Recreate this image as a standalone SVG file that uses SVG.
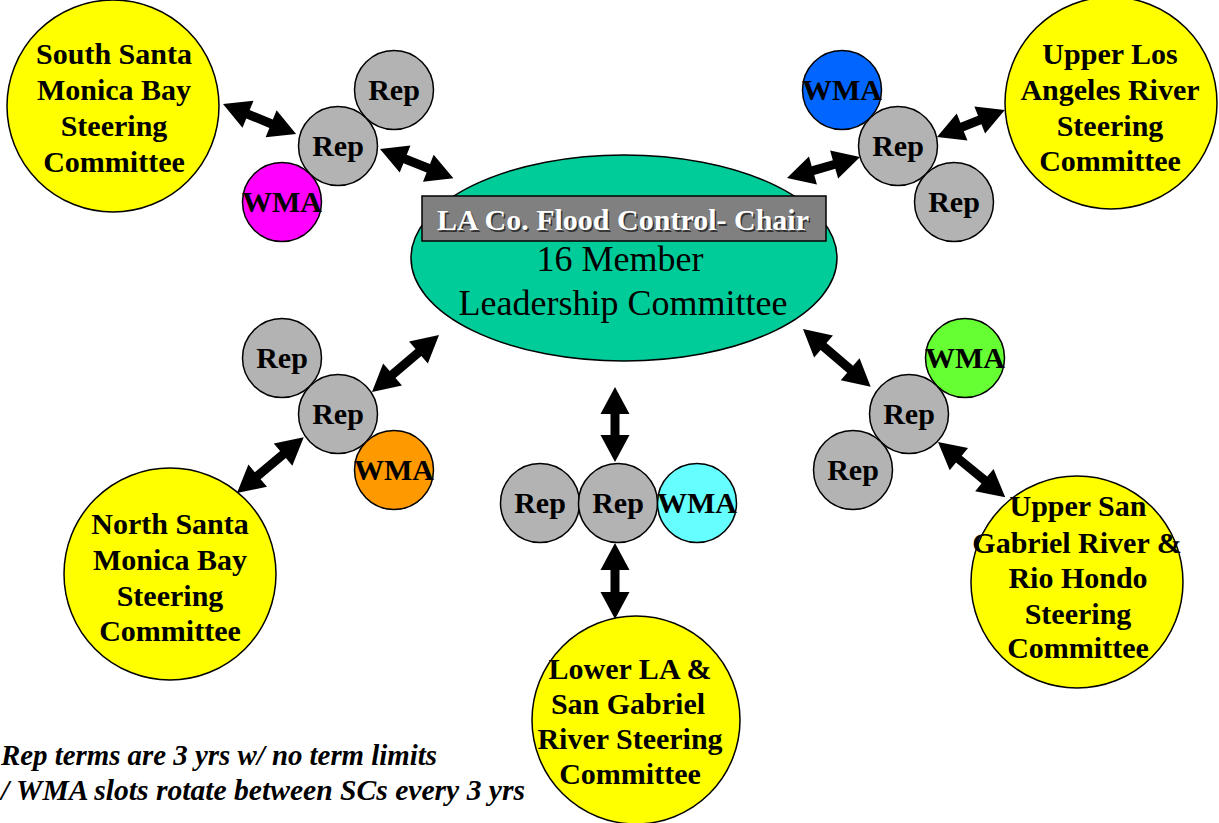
<svg xmlns="http://www.w3.org/2000/svg" width="1219" height="823" viewBox="0 0 1219 823">
<style>
.sc{fill:#ffff00;stroke:#000;stroke-width:1.5}
.rep{fill:#b3b3b3;stroke:#000;stroke-width:1.5}
.wma{stroke:#000;stroke-width:1.5}
.t{font-family:"Liberation Serif","Times New Roman",serif;font-weight:bold;font-size:30px;fill:#000;text-anchor:middle}
.s{font-family:"Liberation Serif","Times New Roman",serif;font-weight:bold;font-size:30px;fill:#000;text-anchor:middle}
.big{font-family:"Liberation Serif","Times New Roman",serif;font-size:36px;fill:#000;text-anchor:middle}
.chair{font-family:"Liberation Serif","Times New Roman",serif;font-weight:bold;font-size:30px;text-anchor:middle}
.note{font-family:"Liberation Serif","Times New Roman",serif;font-weight:bold;font-style:italic;font-size:30px;fill:#000}
.arr{fill:#000}
</style>
<rect width="1219" height="823" fill="#fff"/>

<g id="leadership">
<ellipse cx="624" cy="258" rx="213" ry="103" fill="#00cc99" stroke="#000" stroke-width="1.5"/>
<rect x="422" y="196" width="404" height="45" fill="#808080" stroke="#000" stroke-width="1.5"/>
<text class="chair" x="624.5" y="231.5" fill="#333">LA Co. Flood Control- Chair</text>
<text class="chair" x="623" y="230" fill="#fff">LA Co. Flood Control- Chair</text>
<text class="big" x="620" y="271">16 Member</text>
<text class="big" x="623" y="315">Leadership Committee</text>
</g>

<g id="sc-south-smb">
<circle class="sc" cx="113" cy="106" r="106"/>
<text class="t" x="114" y="64">South Santa</text>
<text class="t" x="114" y="100">Monica Bay</text>
<text class="t" x="114" y="136">Steering</text>
<text class="t" x="114" y="172">Committee</text>
</g>

<g id="sc-upper-la">
<circle class="sc" cx="1111" cy="103" r="106"/>
<text class="t" x="1110" y="64">Upper Los</text>
<text class="t" x="1110" y="100">Angeles River</text>
<text class="t" x="1110" y="136">Steering</text>
<text class="t" x="1110" y="171">Committee</text>
</g>

<g id="sc-north-smb">
<circle class="sc" cx="170" cy="574" r="106"/>
<text class="t" x="170" y="534">North Santa</text>
<text class="t" x="170" y="570">Monica Bay</text>
<text class="t" x="170" y="606">Steering</text>
<text class="t" x="170" y="641">Committee</text>
</g>

<g id="sc-lower-la">
<circle class="sc" cx="636" cy="720" r="104"/>
<text class="t" x="630" y="679">Lower LA &amp;</text>
<text class="t" x="628" y="714">San Gabriel</text>
<text class="t" x="630" y="749">River Steering</text>
<text class="t" x="630" y="784">Committee</text>
</g>

<g id="sc-upper-sg">
<circle class="sc" cx="1077" cy="582" r="106"/>
<text class="t" x="1078" y="516">Upper San</text>
<text class="t" x="1077" y="553">Gabriel River &amp;</text>
<text class="t" x="1078" y="588">Rio Hondo</text>
<text class="t" x="1078" y="624">Steering</text>
<text class="t" x="1078" y="658">Committee</text>
</g>

<g id="reps-tl">
<circle class="rep" cx="394" cy="90" r="39.5"/><text class="s" x="394" y="100">Rep</text>
<circle class="rep" cx="338" cy="146" r="39.5"/><text class="s" x="338" y="156">Rep</text>
<circle class="wma" fill="#ff00ff" cx="282" cy="202" r="39.5"/><text class="s" x="282" y="212">WMA</text>
</g>

<g id="reps-tr">
<circle class="wma" fill="#0066ff" cx="842" cy="90" r="39.5"/><text class="s" x="842" y="100">WMA</text>
<circle class="rep" cx="898" cy="146" r="39.5"/><text class="s" x="898" y="156">Rep</text>
<circle class="rep" cx="954" cy="202" r="39.5"/><text class="s" x="954" y="212">Rep</text>
</g>

<g id="reps-bl">
<circle class="rep" cx="282" cy="358" r="39.5"/><text class="s" x="282" y="368">Rep</text>
<circle class="rep" cx="338" cy="414" r="39.5"/><text class="s" x="338" y="424">Rep</text>
<circle class="wma" fill="#ff9900" cx="394" cy="470" r="39.5"/><text class="s" x="394" y="480">WMA</text>
</g>

<g id="reps-bm">
<circle class="rep" cx="540" cy="503" r="39.5"/><text class="s" x="540" y="513">Rep</text>
<circle class="rep" cx="618" cy="503" r="39.5"/><text class="s" x="618" y="513">Rep</text>
<circle class="wma" fill="#66ffff" cx="697" cy="503" r="39.5"/><text class="s" x="697" y="513">WMA</text>
</g>

<g id="reps-br">
<circle class="wma" fill="#66ff33" cx="965" cy="358" r="39.5"/><text class="s" x="965" y="368">WMA</text>
<circle class="rep" cx="909" cy="414" r="39.5"/><text class="s" x="909" y="424">Rep</text>
<circle class="rep" cx="853" cy="470" r="39.5"/><text class="s" x="853" y="480">Rep</text>
</g>

<g id="connectors" class="arr">
<path transform="translate(223,104) rotate(22.3)" d="M0,0 L27,-14.5 L27,-4.5 L52,-4.5 L52,-14.5 L79,0 L52,14.5 L52,4.5 L27,4.5 L27,14.5 Z"/>
<path transform="translate(380,149) rotate(21.7)" d="M0,0 L27,-14.5 L27,-4.5 L52,-4.5 L52,-14.5 L79,0 L52,14.5 L52,4.5 L27,4.5 L27,14.5 Z"/>
<path transform="translate(787,178) rotate(-16)" d="M0,0 L27,-14.5 L27,-4.5 L49,-4.5 L49,-14.5 L76,0 L49,14.5 L49,4.5 L27,4.5 L27,14.5 Z"/>
<path transform="translate(937,137) rotate(-21.7)" d="M0,0 L27,-14.5 L27,-4.5 L46,-4.5 L46,-14.5 L73,0 L46,14.5 L46,4.5 L27,4.5 L27,14.5 Z"/>
<path transform="translate(372,392) rotate(-40.4)" d="M0,0 L27,-14.5 L27,-4.5 L61,-4.5 L61,-14.5 L88,0 L61,14.5 L61,4.5 L27,4.5 L27,14.5 Z"/>
<path transform="translate(237,493) rotate(-39.9)" d="M0,0 L27,-14.5 L27,-4.5 L60,-4.5 L60,-14.5 L87,0 L60,14.5 L60,4.5 L27,4.5 L27,14.5 Z"/>
<path transform="translate(803,329) rotate(40.5)" d="M0,0 L27,-14.5 L27,-4.5 L62,-4.5 L62,-14.5 L89,0 L62,14.5 L62,4.5 L27,4.5 L27,14.5 Z"/>
<path transform="translate(938,442) rotate(39.4)" d="M0,0 L27,-14.5 L27,-4.5 L60,-4.5 L60,-14.5 L87,0 L60,14.5 L60,4.5 L27,4.5 L27,14.5 Z"/>
<path transform="translate(615,387) rotate(90)" d="M0,0 L27,-14.5 L27,-4.5 L48,-4.5 L48,-14.5 L75,0 L48,14.5 L48,4.5 L27,4.5 L27,14.5 Z"/>
<path transform="translate(615,543) rotate(90)" d="M0,0 L27,-14.5 L27,-4.5 L49,-4.5 L49,-14.5 L76,0 L49,14.5 L49,4.5 L27,4.5 L27,14.5 Z"/>
</g>

<g id="notes">
<text class="note" x="1" y="765" textLength="436" lengthAdjust="spacingAndGlyphs">Rep terms are 3 yrs w/ no term limits</text>
<text class="note" x="1" y="800" textLength="524" lengthAdjust="spacingAndGlyphs">/ WMA slots rotate between SCs every 3 yrs</text>
</g>
</svg>
